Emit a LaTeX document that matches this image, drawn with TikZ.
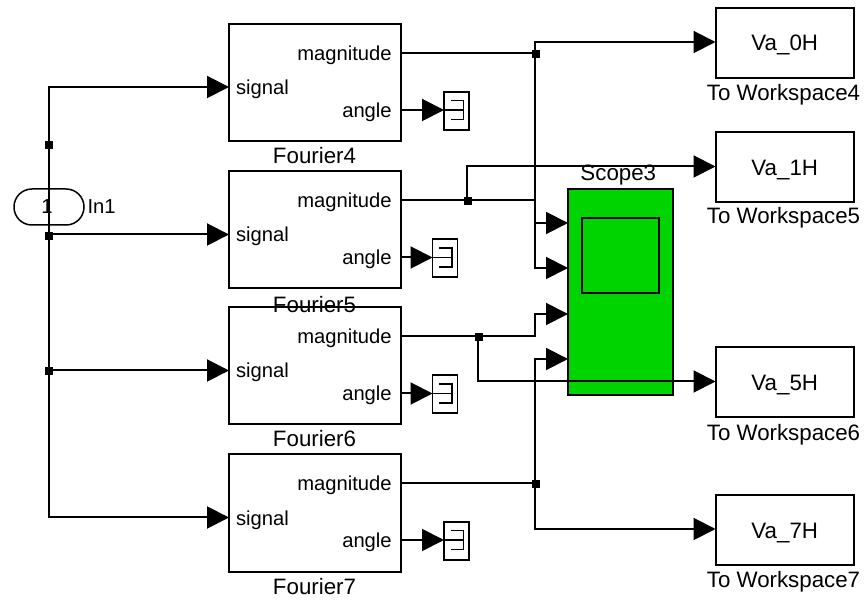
\documentclass[tikz,border=0pt]{standalone}
\usepackage{fontspec}
\setmainfont{Liberation Sans}
\usetikzlibrary{arrows.meta}
\tikzset{
  block/.style={draw=black,fill=none,line width=2pt,inner sep=0pt,outer sep=0pt},
  blockfourier/.style={block,minimum width=172pt,minimum height=117pt},
  blockwork/.style={block,minimum width=138.5pt,minimum height=70pt},
  blockterm/.style={draw=black,fill=white,line width=1.5pt,inner sep=0pt,outer sep=0pt,minimum width=25pt,minimum height=38pt},
  port/.style={inner sep=0pt,outer sep=0pt,font=\fontsize{20.2}{24}\selectfont},
  title/.style={inner sep=0pt,outer sep=0pt,anchor=base,font=\fontsize{22.3}{26}\selectfont},
  junction/.style={fill=black,inner sep=0pt,outer sep=0pt,minimum size=8pt},
  wire/.style={draw=black,line width=2pt},
  feed/.style={wire,-{Triangle[length=22pt,width=22pt]}},
}
\begin{document}
\begin{tikzpicture}[x=1pt,y=-1pt]
\path[use as bounding box,fill=white] (0,0) rectangle (868,601);
% source
\node[draw=black,line width=1.5pt,inner sep=0pt,outer sep=0pt,minimum width=70pt,minimum height=36pt,rounded corners=17.9pt] (in1) at (49,207) {};
\node[port,anchor=base] (in1num) at (47,213.5) {1};
\node[port,anchor=base west] (in1name) at (87.5,213.5) {In1};
% fourier blocks
\node[title] (name4) at (314.5,164) {Fourier4};
\node[title] (name5) at (314.5,312.4) {Fourier5};
\node[title] (name6) at (314.5,446.7) {Fourier6};
\node[title] (name7) at (314.5,594.7) {Fourier7};
\node[blockfourier] (fourier4) at (315,82.5) {};
\node[blockfourier] (fourier5) at (315,230) {};
\node[blockfourier] (fourier6) at (315,366) {};
\node[blockfourier] (fourier7) at (315,513) {};
\node[port,anchor=base east] (mag4) at (391.7,60.7) {magnitude};
\node[port,anchor=base west] (sigtext4) at (236,94.7) {signal};
\node[port,anchor=base east] (ang4) at (391.7,117.4) {angle};
\node[port,anchor=base east] (mag5) at (391.7,207.7) {magnitude};
\node[port,anchor=base west] (sigtext5) at (236,241.7) {signal};
\node[port,anchor=base east] (ang5) at (391.7,264.7) {angle};
\node[port,anchor=base east] (mag6) at (391.7,343.4) {magnitude};
\node[port,anchor=base west] (sigtext6) at (236,378) {signal};
\node[port,anchor=base east] (ang6) at (391.7,400.7) {angle};
\node[port,anchor=base east] (mag7) at (391.7,490.7) {magnitude};
\node[port,anchor=base west] (sigtext7) at (236,525.7) {signal};
\node[port,anchor=base east] (ang7) at (391.7,547.4) {angle};
% terminators
\node[blockterm] (term4) at (456.5,111) {};
\node[blockterm] (term5) at (445,258) {};
\node[blockterm] (term6) at (445,394) {};
\node[blockterm] (term7) at (456.5,541) {};
\draw[line width=1.4pt] (term4.west |- 0,110) -- ++(20,0) (450.5,100.5) -- (463.5,100.5) -- (463.5,119.5) -- (450.5,119.5);
\draw[line width=1.4pt] (term5.west |- 0,257.5) -- ++(20,0) (439,248) -- (452,248) -- (452,267) -- (439,267);
\draw[line width=1.4pt] (term6.west |- 0,393.5) -- ++(20,0) (439,384) -- (452,384) -- (452,403) -- (439,403);
\draw[line width=1.4pt] (term7.west |- 0,540) -- ++(20,0) (450.5,530.5) -- (463.5,530.5) -- (463.5,549.5) -- (450.5,549.5);
% scope
\node[title] (scopename) at (618.3,180.5) {Scope3};
\node[block,fill={rgb,255:red,0;green,212;blue,0},minimum width=105pt,minimum height=206pt] (scope) at (620.5,292) {};
\node[block,minimum width=77pt,minimum height=74.5pt] (screen) at (620.5,255.7) {};
% workspace blocks
\node[blockwork] (work4) at (784.75,43) {};
\node[blockwork] (work5) at (784.75,167.5) {};
\node[blockwork] (work6) at (784.75,382.5) {};
\node[blockwork] (work7) at (784.75,530) {};
\node[title] (va0) at (784.75,51) {Va\_0H};
\node[title] (va1) at (784.75,175.5) {Va\_1H};
\node[title] (va5) at (784.75,391) {Va\_5H};
\node[title] (va7) at (784.75,539) {Va\_7H};
\node[title] (wname4) at (783.5,100.7) {To Workspace4};
\node[title] (wname5) at (783.5,224) {To Workspace5};
\node[title] (wname6) at (783.5,440.7) {To Workspace6};
\node[title] (wname7) at (783.5,587.7) {To Workspace7};
% ports
\coordinate (in4) at (229,87);
\coordinate (in5) at (229,234.5);
\coordinate (in6) at (229,370.5);
\coordinate (in7) at (229,517.5);
\coordinate (out4) at (401,53);
\coordinate (out5) at (401,200.5);
\coordinate (out6) at (401,336.5);
\coordinate (out7) at (401,483.5);
\coordinate (phase4) at (401,110);
\coordinate (phase5) at (401,257.5);
\coordinate (phase6) at (401,393.5);
\coordinate (phase7) at (401,540);
\coordinate (scope1) at (568,223);
\coordinate (scope2) at (568,268);
\coordinate (scope3) at (568,314);
\coordinate (scope4) at (568,359);
\coordinate (busa) at (534.5,53);
\coordinate (busb) at (534.5,200.5);
\coordinate (busc) at (534.5,336.5);
\coordinate (busd) at (534.5,483.5);
\coordinate (tapa) at (467,200.5);
\coordinate (tapc) at (478,336.5);
\coordinate (work4in) at (715.5,42);
\coordinate (work5in) at (715.5,166.5);
\coordinate (work6in) at (715.5,381.5);
\coordinate (work7in) at (715.5,529);
% junctions
\node[junction] (j4) at (48.7,145) {};
\node[junction] (j5) at (48.7,236) {};
\node[junction] (j6) at (48.7,371) {};
\node[junction] (ja) at (535.7,54) {};
\node[junction] (jb) at (467.7,201.5) {};
\node[junction] (jc) at (479,337.5) {};
\node[junction] (jd) at (535.7,484.5) {};
% input wires
\draw[feed] (in1.center) |- (in4);
\draw[feed] (in1.center) |- (in7);
\draw[feed] (j5 |- in5) -- (in5);
\draw[feed] (j6 |- in6) -- (in6);
% angle wires
\draw[feed] (phase4) -- (term4.west |- phase4);
\draw[feed] (phase5) -- (term5.west |- phase5);
\draw[feed] (phase6) -- (term6.west |- phase6);
\draw[feed] (phase7) -- (term7.west |- phase7);
% magnitude wires
\draw[wire] (out4) -- (busa);
\draw[feed] (busa) |- (work4in);
\draw[feed] (busa) |- (scope1);
\draw[feed] (busa) |- (scope2);
\draw[wire] (out5) -- (busb);
\draw[feed] (tapa) |- (work5in);
\draw[feed] (out6) -- (busc) |- (scope3);
\draw[feed] (tapc) |- (work6in);
\draw[wire] (out7) -- (busd);
\draw[feed] (busd) |- (scope4);
\draw[feed] (busd) |- (work7in);
\end{tikzpicture}
\end{document}
